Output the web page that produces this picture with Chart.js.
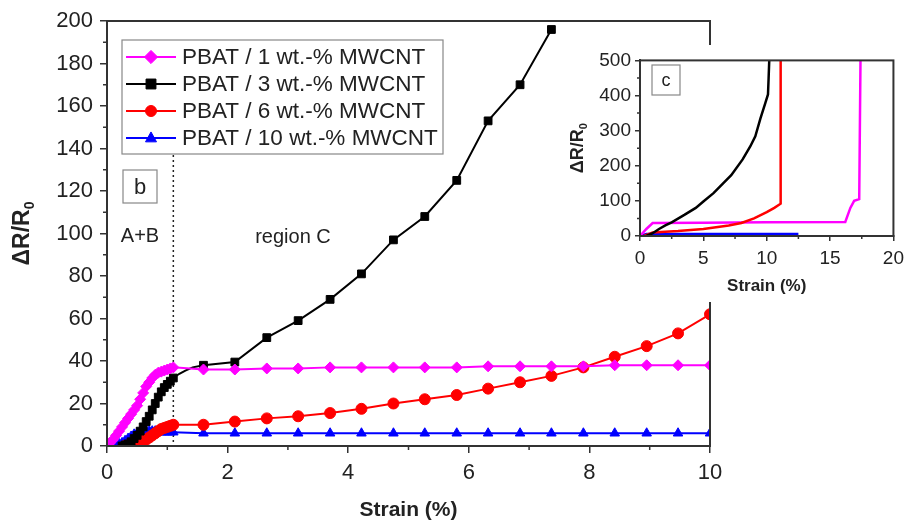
<!DOCTYPE html>
<html><head><meta charset="utf-8">
<script src="https://cdn.jsdelivr.net/npm/chart.js@4.4.0/dist/chart.umd.min.js"></script>
<style>
html,body{margin:0;padding:0;background:#fff;}
#wrap{position:relative;width:914px;height:531px;background:#fff;}
#main{position:absolute;left:0;top:0;}
#inset{position:absolute;left:555px;top:45px;background:#fff;}
</style></head><body>
<div id="wrap">
<canvas id="main" width="914" height="531"></canvas>
<canvas id="inset" width="355" height="257"></canvas>
</div>
<script>
// ---------- main chart data (Strain %, ΔR/R0) ----------
const seriesLabels = ['PBAT / 1 wt.-% MWCNT','PBAT / 3 wt.-% MWCNT','PBAT / 6 wt.-% MWCNT','PBAT / 10 wt.-% MWCNT'];
const seriesColors = ['#FF00FF','#000000','#FF0000','#0000FF'];
const seriesMarkers = ['rectRot','rect','circle','triangle'];
const yTitleMain = 'ΔR/R';
const yTitleSub = '0';
const xTitle = 'Strain (%)';

const pbat1X = [0,0.05,0.1,0.15,0.2,0.25,0.3,0.35,0.4,0.45,0.5,0.55,0.6,0.65,0.7,0.75,0.8,0.85,0.9,0.95,1.0,1.05,1.1,1.6,2.12,2.65,3.17,3.7,4.22,4.75,5.27,5.8,6.32,6.85,7.37,7.9,8.42,8.95,9.47,10];
const pbat1Y = [0,1.5,3,5,7,9,11,13,15,17,19,22,25,28,30,32,33.5,34.5,35,35.5,36,36.5,37,36,36,36.5,36.5,37,37,37,37,37,37.5,37.5,37.5,37.5,38,38,38,38];

const pbat3X = [0.25,0.3,0.35,0.4,0.45,0.5,0.55,0.6,0.65,0.7,0.75,0.8,0.85,0.9,0.95,1.0,1.05,1.1,1.2,1.3,1.42,1.6,2.12,2.65,3.17,3.7,4.22,4.75,5.27,5.8,6.32,6.85,7.37];
const pbat3Y = [0,0.5,1,2,3.5,5,7,9,11.5,14,17,20,23,25.5,27.5,29,30.5,32,34,35.5,37,38,39.5,51,59,69,81,97,108,125,153,170,196];

const pbat6X = [0.3,0.35,0.4,0.45,0.5,0.55,0.6,0.65,0.7,0.75,0.8,0.85,0.9,0.95,1.0,1.05,1.1,1.6,2.12,2.65,3.17,3.7,4.22,4.75,5.27,5.8,6.32,6.85,7.37,7.9,8.42,8.95,9.47,10];
const pbat6Y = [0,0.3,0.5,1,1.5,2,2.5,3,4,5,6,7,8,8.5,9,9.5,10,10,11.5,13,14,15.5,17.5,20,22,24,27,30,33,37,42,47,53,62];

const pbat10X = [0.1,0.15,0.2,0.25,0.3,0.35,0.4,0.45,0.5,0.55,0.6,0.65,0.7,0.75,0.8,0.85,0.9,0.95,1.0,1.05,1.1,1.6,2.12,2.65,3.17,3.7,4.22,4.75,5.27,5.8,6.32,6.85,7.37,7.9,8.42,8.95,9.47,10];
const pbat10Y = [0,0.5,1,1.5,2.5,3.5,4.5,5.5,6,6.5,7,7,7,7,7,7,6.5,6.5,6.5,6.5,6.5,6,6,6,6,6,6,6,6,6,6,6,6,6,6,6,6,6];

// ---------- inset data ----------
const inset1X = [0,0.5,1,5,10,16.2,16.6,16.9,17.3,17.4];
const inset1Y = [0,20,37,38,39,40,80,100,105,500];
const inset3X = [0.5,1,1.5,2,2.5,3.5,4.4,5,5.8,6.5,7.2,8.1,8.7,9.1,9.5,9.9,10.1,10.15,10.2];
const inset3Y = [0,8,20,30,39,60,80,98,122,148,173,218,255,284,334,380,403,450,500];
const inset6X = [0.3,1,3,5,7,8,9,10,10.6,11.1,11.1];
const inset6Y = [0,10,14,20,30,37,50,68,80,92,500];
const inset10X = [0,0.5,1,12.5];
const inset10Y = [0,6,6,6];

// ---------- tick settings ----------
const mainMinorX = [1,3,5,7,9];
const mainMinorY = [10,30,50,70,90,110,130,150,170,190];
const insetMinorX = [2.5,7.5,12.5,17.5];
const insetMinorY = [50,150,250,350,450];

const FONT = "'Liberation Sans', Arial, sans-serif";
const AX = '#333333';

function pts(xs, ys){ return xs.map((x,i)=>({x:x, y:ys[i]})); }

function drawMarker(ctx, style, x, y, r, color){
  ctx.save();
  ctx.fillStyle = color; ctx.strokeStyle = color; ctx.lineWidth = 1;
  ctx.beginPath();
  if (style==='circle'){ ctx.arc(x,y,r,0,Math.PI*2); }
  else if (style==='rect'){ const s=r*0.9; ctx.rect(x-s,y-s,2*s,2*s); }
  else if (style==='rectRot'){ ctx.moveTo(x,y-r*1.2); ctx.lineTo(x+r*1.2,y); ctx.lineTo(x,y+r*1.2); ctx.lineTo(x-r*1.2,y); ctx.closePath(); }
  else if (style==='triangle'){ ctx.moveTo(x,y-r*1.1); ctx.lineTo(x+r,y+r*0.7); ctx.lineTo(x-r,y+r*0.7); ctx.closePath(); }
  ctx.fill(); ctx.stroke();
  ctx.restore();
}

function minorTicks(chart, xs, ys, len){
  const ctx = chart.ctx, a = chart.chartArea, sx = chart.scales.x, sy = chart.scales.y;
  ctx.save(); ctx.strokeStyle = AX; ctx.lineWidth = 1.5; ctx.beginPath();
  xs.forEach(v=>{ const p = sx.getPixelForValue(v); ctx.moveTo(p,a.bottom); ctx.lineTo(p,a.bottom+len); });
  ys.forEach(v=>{ const p = sy.getPixelForValue(v); ctx.moveTo(a.left,p); ctx.lineTo(a.left-len,p); });
  ctx.stroke(); ctx.restore();
}

function frame(chart){
  const ctx = chart.ctx, a = chart.chartArea;
  ctx.save(); ctx.strokeStyle = AX; ctx.lineWidth = 2;
  ctx.strokeRect(a.left, a.top, a.right-a.left, a.bottom-a.top);
  ctx.restore();
}

function yTitle(chart, cx, size){
  const ctx = chart.ctx, a = chart.chartArea;
  const cy = (a.top + a.bottom) / 2;
  ctx.save();
  ctx.translate(cx, cy); ctx.rotate(-Math.PI/2);
  ctx.fillStyle = '#222'; ctx.textBaseline = 'alphabetic'; ctx.textAlign = 'left';
  const big = 'bold ' + size + 'px ' + FONT, small = 'bold ' + Math.round(size*0.62) + 'px ' + FONT;
  ctx.font = big; const w1 = ctx.measureText(yTitleMain).width;
  ctx.font = small; const w2 = ctx.measureText(yTitleSub).width;
  const x0 = -(w1 + w2) / 2, base = size * 0.36;
  ctx.font = big; ctx.fillText(yTitleMain, x0, base);
  ctx.font = small; ctx.fillText(yTitleSub, x0 + w1, base + size*0.22);
  ctx.restore();
}

function labelBox(ctx, text, x, y, w, h, size){
  ctx.save();
  ctx.strokeStyle = '#888'; ctx.lineWidth = 1.2; ctx.strokeRect(x, y, w, h);
  ctx.fillStyle = '#222'; ctx.font = size + 'px ' + FONT; ctx.textAlign = 'center'; ctx.textBaseline = 'middle';
  ctx.fillText(text, x + w/2, y + h/2 + 1);
  ctx.restore();
}

const mainDecor = {
  id: 'mainDecor',
  beforeDatasetsDraw(chart){
    const ctx = chart.ctx, sx = chart.scales.x, sy = chart.scales.y;
    const px = sx.getPixelForValue(1.1);
    ctx.save(); ctx.strokeStyle = '#222'; ctx.lineWidth = 1.5; ctx.setLineDash([2,3]);
    ctx.beginPath(); ctx.moveTo(px, 155); ctx.lineTo(px, sy.getPixelForValue(0)); ctx.stroke();
    ctx.restore();
  },
  afterDraw(chart){
    const ctx = chart.ctx;
    frame(chart);
    minorTicks(chart, mainMinorX, mainMinorY, 4);
    yTitle(chart, 21, 23);
    // legend
    ctx.save();
    ctx.fillStyle = '#fff'; ctx.strokeStyle = '#888'; ctx.lineWidth = 1.2;
    ctx.fillRect(122, 40, 321, 114); ctx.strokeRect(122, 40, 321, 114);
    ctx.font = '22.5px ' + FONT; ctx.textBaseline = 'middle'; ctx.textAlign = 'left';
    chart.data.datasets.forEach((ds, i) => {
      const y = 57 + i*27;
      ctx.strokeStyle = ds.borderColor; ctx.lineWidth = 2;
      ctx.beginPath(); ctx.moveTo(126, y); ctx.lineTo(176, y); ctx.stroke();
      drawMarker(ctx, ds.pointStyle, 151, y, 5.5, ds.borderColor);
      ctx.fillStyle = '#222';
      ctx.fillText(ds.label, 182, y + 1);
    });
    ctx.restore();
    labelBox(ctx, 'b', 123, 170, 34, 33, 22);
    ctx.save();
    ctx.fillStyle = '#222'; ctx.font = '20px ' + FONT; ctx.textAlign = 'center'; ctx.textBaseline = 'middle';
    ctx.fillText('A+B', 140, 236);
    ctx.fillText('region C', 293, 237);
    ctx.restore();
  }
};

function ds(label, xs, ys, color, marker){
  return { label: label, data: pts(xs, ys), borderColor: color, backgroundColor: color,
    borderWidth: 2, pointStyle: marker, pointBorderWidth: 1, tension: 0,
    pointRadius: c => { const v = c.raw ? c.raw.x : 0; return (v > 1.12 && v < 1.55) ? 0 : 5.5; } };
}

new Chart(document.getElementById('main'), {
  type: 'line',
  data: { datasets: [
    ds(seriesLabels[0], pbat1X, pbat1Y, seriesColors[0], seriesMarkers[0]),
    ds(seriesLabels[1], pbat3X, pbat3Y, seriesColors[1], seriesMarkers[1]),
    ds(seriesLabels[2], pbat6X, pbat6Y, seriesColors[2], seriesMarkers[2]),
    ds(seriesLabels[3], pbat10X, pbat10Y, seriesColors[3], seriesMarkers[3])
  ]},
  options: {
    responsive: false, animation: false, devicePixelRatio: 1,
    layout: { padding: { left: 0, top: 21, right: 204, bottom: 0 } },
    plugins: { legend: { display: false }, tooltip: { enabled: false } },
    scales: {
      x: { type: 'linear', min: 0, max: 10,
        afterFit(s){ s.height = 85; },
        ticks: { stepSize: 2, color: '#222', font: { family: FONT, size: 22 }, padding: 7, maxRotation: 0 },
        grid: { drawOnChartArea: false, drawTicks: true, tickLength: 7, color: AX, lineWidth: 1.5 },
        border: { display: true, color: AX, width: 2 },
        title: { display: true, text: xTitle, color: '#222', font: { family: FONT, size: 21, weight: 'bold' }, padding: { top: 0, bottom: 8 } }
      },
      y: { type: 'linear', min: 0, max: 200,
        afterFit(s){ s.width = 107; },
        ticks: { stepSize: 20, color: '#222', font: { family: FONT, size: 22 }, padding: 7 },
        grid: { drawOnChartArea: false, drawTicks: true, tickLength: 7, color: AX, lineWidth: 1.5 },
        border: { display: true, color: AX, width: 2 },
        title: { display: false }
      }
    }
  },
  plugins: [mainDecor]
});

// ---------- inset ----------
const insetDecor = {
  id: 'insetDecor',
  beforeDraw(chart){
    const ctx = chart.ctx; ctx.save(); ctx.fillStyle = '#fff'; ctx.fillRect(0,0,chart.width,chart.height); ctx.restore();
  },
  afterDraw(chart){
    frame(chart);
    minorTicks(chart, insetMinorX, insetMinorY, 3);
    yTitle(chart, 22, 18);
    labelBox(chart.ctx, 'c', 97, 20, 28, 30, 18);
  }
};

function ids(xs, ys, color){
  return { data: pts(xs, ys), borderColor: color, backgroundColor: color, borderWidth: 2.5, pointRadius: 0, tension: 0 };
}

new Chart(document.getElementById('inset'), {
  type: 'line',
  data: { datasets: [
    ids(inset3X, inset3Y, seriesColors[1]),
    ids(inset6X, inset6Y, seriesColors[2]),
    ids(inset1X, inset1Y, seriesColors[0]),
    ids(inset10X, inset10Y, seriesColors[3])
  ]},
  options: {
    responsive: false, animation: false, devicePixelRatio: 1,
    layout: { padding: { left: 0, top: 10, right: 12, bottom: 0 } },
    plugins: { legend: { display: false }, tooltip: { enabled: false } },
    scales: {
      x: { type: 'linear', min: 0, max: 20,
        afterFit(s){ s.height = 66; },
        ticks: { stepSize: 5, color: '#222', font: { family: FONT, size: 19 }, padding: 6, maxRotation: 0 },
        grid: { drawOnChartArea: false, drawTicks: true, tickLength: 5, color: AX, lineWidth: 1.5 },
        border: { display: true, color: AX, width: 2 },
        title: { display: true, text: xTitle, color: '#222', font: { family: FONT, size: 17, weight: 'bold' }, padding: { top: 0, bottom: 5 } }
      },
      y: { type: 'linear', min: 0, max: 500,
        afterFit(s){ s.width = 85; },
        ticks: { stepSize: 100, color: '#222', font: { family: FONT, size: 19 }, padding: 4 },
        grid: { drawOnChartArea: false, drawTicks: true, tickLength: 5, color: AX, lineWidth: 1.5 },
        border: { display: true, color: AX, width: 2 },
        title: { display: false }
      }
    }
  },
  plugins: [insetDecor]
});
</script>
</body></html>
